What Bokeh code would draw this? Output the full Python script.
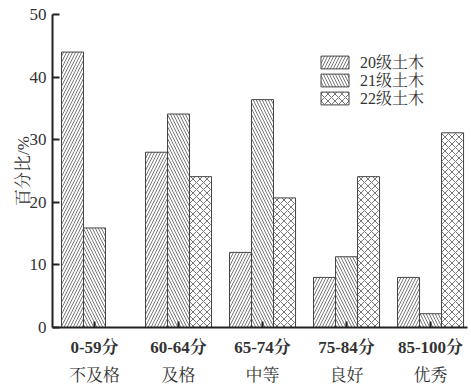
from bokeh.plotting import figure
from bokeh.models import LinearAxis, FixedTicker, Legend, LegendItem
from bokeh.transform import dodge
from bokeh.embed import file_html
from bokeh.resources import INLINE

score_ranges = ["0-59分", "60-64分", "65-74分", "75-84分", "85-100分"]
grades = ["不及格", "及格", "中等", "良好", "优秀"]
series_names = ["20级土木", "21级土木", "22级土木"]
s20 = [44.0, 28.0, 12.0, 8.0, 8.0]
s21 = [15.9, 34.1, 36.4, 11.3, 2.2]
s22 = [0.0, 24.1, 20.7, 24.1, 31.1]
y_ticks = [0, 10, 20, 30, 40, 50]

FONT = "'Liberation Serif', 'Noto Serif CJK SC', 'Noto Sans CJK SC', serif"
TXT = "#333333"

xs = list(range(len(score_ranges)))
p = figure(width=471, height=387, output_backend="svg", toolbar_location=None,
           x_range=(-0.5, 4.44), y_range=(0, 50),
           min_border_left=52, min_border_right=4, min_border_top=14, min_border_bottom=54,
           x_axis_location=None)
p.outline_line_color = None
p.xgrid.visible = False
p.ygrid.visible = False
p.background_fill_color = "white"
p.border_fill_color = "white"

data = dict(x=xs, s20=s20, s21=s21, s22=s22)
w = 0.262
hatches = ["/", "\\", "x"]
scales = [6, 6, 7]
keys = ["s20", "s21", "s22"]
offs = [-w, 0, w]
renderers = []
for k, h, o, sc in zip(keys, hatches, offs, scales):
    r = p.vbar(x=dodge("x", o), top=k, width=w, source=data, bottom=0,
               fill_color="white", line_color="#444444", line_width=1,
               hatch_pattern=h, hatch_color="#555555", hatch_weight=0.8, hatch_scale=sc)
    renderers.append(r)

# y axis
ya = p.yaxis[0]
ya.ticker = FixedTicker(ticks=y_ticks)
ya.axis_label = "百分比/%"
ya.axis_line_width = 2
ya.axis_line_color = "#222222"
ya.major_tick_in = 7
ya.major_tick_out = 0
ya.major_tick_line_width = 2
ya.major_tick_line_color = "#222222"
ya.minor_tick_line_color = None
ya.major_label_text_font = FONT
ya.major_label_text_font_size = "17px"
ya.major_label_text_color = TXT
ya.axis_label_text_font = FONT
ya.axis_label_text_font_size = "17px"
ya.axis_label_text_font_style = "normal"
ya.axis_label_text_color = TXT
ya.major_label_standoff = 6
ya.axis_label_standoff = -6

# x axes: two lines of labels
xa1 = LinearAxis(ticker=FixedTicker(ticks=xs),
                 major_label_overrides={i: s for i, s in enumerate(score_ranges)})
xa2 = LinearAxis(ticker=FixedTicker(ticks=xs),
                 major_label_overrides={i: s for i, s in enumerate(grades)})
xa1.axis_line_width = 2
xa1.axis_line_color = "#222222"
xa1.major_tick_in = 6
xa1.major_tick_out = 0
xa1.major_tick_line_width = 2
xa1.major_tick_line_color = "#222222"
xa1.minor_tick_line_color = None
xa1.major_label_standoff = 10
xa1.major_label_text_font_style = "bold"
xa2.axis_line_color = None
xa2.major_tick_line_color = None
xa2.minor_tick_line_color = None
xa2.major_label_standoff = 0
for ax in [xa1, xa2]:
    ax.major_label_text_font = FONT
    ax.major_label_text_font_size = "17px"
    ax.major_label_text_color = TXT
p.add_layout(xa1, "below")
p.add_layout(xa2, "below")

# one legend per item, to control row pitch
legend_y = [254, 236, 218]
for n, r, ly in zip(series_names, renderers, legend_y):
    lg = Legend(items=[LegendItem(label=n, renderers=[r])],
                location=(265, ly), orientation="vertical",
                glyph_width=35, glyph_height=16, label_height=16, spacing=0,
                padding=0, margin=0, label_standoff=8,
                border_line_color=None, background_fill_alpha=0,
                label_text_font=FONT, label_text_font_size="16px", label_text_color=TXT)
    p.add_layout(lg)

open("out.html", "w").write(file_html(p, INLINE))
